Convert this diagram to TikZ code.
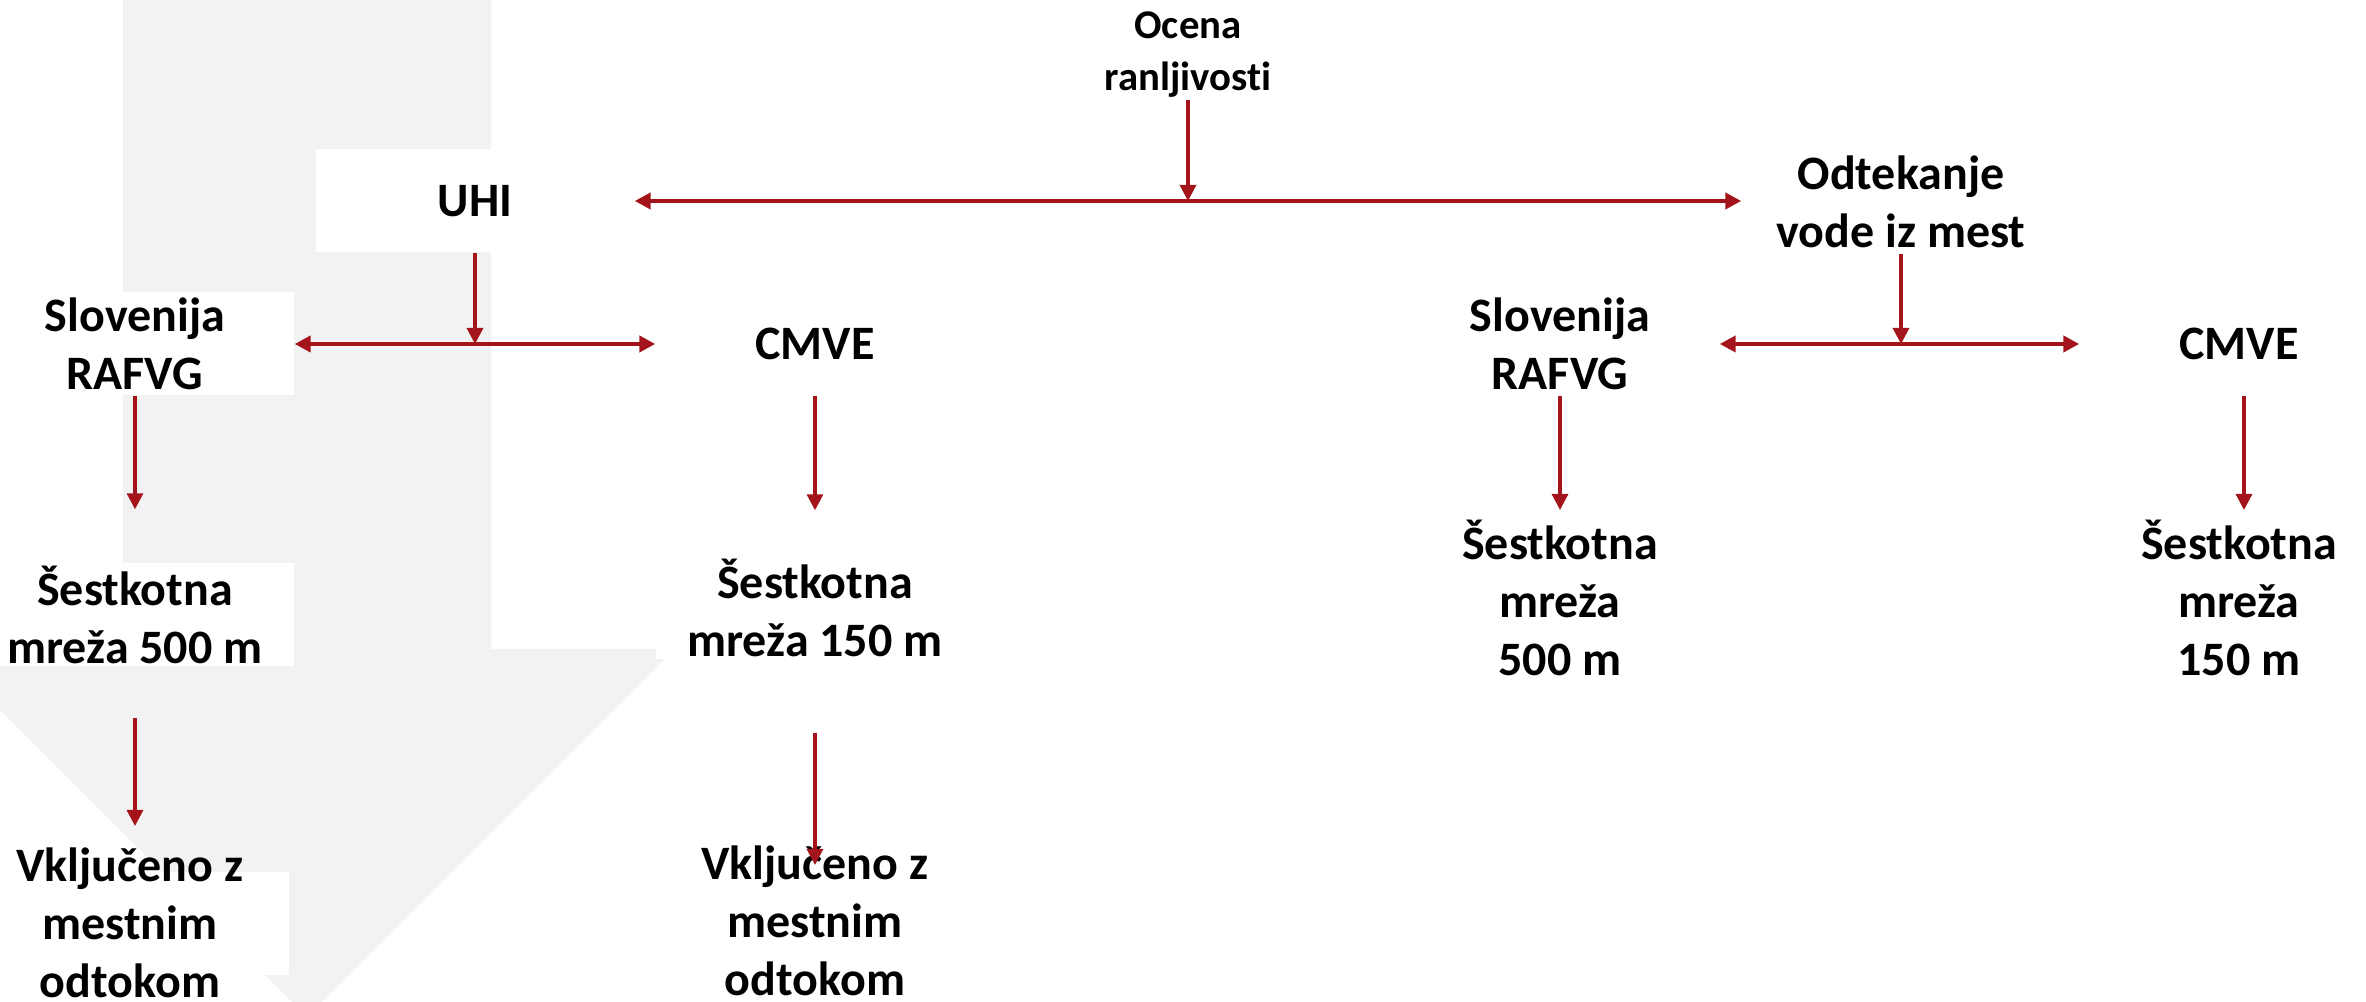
\documentclass[tikz,border=0pt]{standalone}
\usepackage{fontspec}
\setmainfont{Carlito}[Ligatures=NoCommon]
\usetikzlibrary{arrows.meta}
\definecolor{linkred}{RGB}{163,21,26}
\definecolor{flowgray}{RGB}{242,242,242}

\begin{document}
\begin{tikzpicture}[
  box/.style={fill=white, minimum width=3.18cm, minimum height=1.03cm, inner sep=0pt,
    align=center, font=\fontsize{13.66}{16.5}\selectfont\bfseries},
  tall/.style={box, fill=none},
  link/.style={linkred, line width=0.9pt, -{Triangle[length=0.16cm,width=0.16cm]}},
  both/.style={linkred, line width=1.15pt,
    {Triangle[length=0.16cm,width=0.16cm]}-{Triangle[length=0.16cm,width=0.16cm]}}
]
\useasboundingbox (0,0) rectangle (23.66,10.02);
\clip (0,0) rectangle (23.66,10.02);

% Background arrow
\fill[flowgray] (1.23,10.1) -- (1.23,3.53) -- (-0.61,3.53) -- (3.07,-0.15)
  -- (6.75,3.53) -- (4.91,3.53) -- (4.91,10.1) -- cycle;
\node[fill=white, minimum width=3.18cm, minimum height=1.03cm, inner sep=0pt] (vkljl-p) at (1.30,0.785) {};

% Top
\node[font=\fontsize{11.6}{14.8}\selectfont\bfseries, align=center, inner sep=0pt] (ocena) at (11.88,9.47) {Ocena\\ranljivosti};
\node[box] (uhi) at (4.75,8.01) {UHI};
\node[box] (odt) at (19.01,8.00) {Odtekanje\\vode iz mest};

% UHI branch
\node[box] (slol) at (1.35,6.58) {Slovenija\\RAFVG};
\node[box] (cmvel) at (8.15,6.58) {CMVE};
\node[box] (sest500l) at (1.35,3.87) {Šestkotna\\mreža 500 m};
\node[box] (sest150l) at (8.15,3.945) {Šestkotna\\mreža 150 m};
\node[tall] (vkljl) at (1.30,0.79) {Vključeno z\\mestnim\\odtokom};
\node[tall] (vkljr) at (8.15,0.81) {Vključeno z\\mestnim\\odtokom};

% Runoff branch
\node[box, fill=none] (slor) at (15.60,6.58) {Slovenija\\RAFVG};
\node[box, fill=none] (cmver) at (22.39,6.58) {CMVE};
\node[tall] (sest500r) at (15.60,4.04) {Šestkotna\\mreža\\500 m};
\node[tall] (sest150r) at (22.39,4.04) {Šestkotna\\mreža\\150 m};

% Connectors
\draw[both] (uhi.east) -- (uhi.east -| odt.west);
\draw[link, shorten <=0.3pt] (ocena.south) -- (ocena.south |- uhi.east);
\draw[link] (uhi.south) -- (uhi.south |- slol.east);
\draw[both] (slol.east) -- (slol.east -| cmvel.west);
\draw[link, shorten >=0.535cm] (slol.south) -- (sest500l.north);
\draw[link, shorten >=0.45cm] (cmvel.south) -- (sest150l.north);
\draw[link, shorten <=0.505cm, shorten >=0.97cm] (sest500l.south) -- (sest500l.south |- vkljl.center);
\draw[link, shorten <=0.73cm, shorten >=0.56cm] (sest150l.south) -- (vkljr.center);

\draw[link] (odt.south) -- (odt.south |- slor.east);
\draw[both] (slor.east) -- (slor.east -| cmver.west);
\draw[link, shorten >=0.88cm] (slor.south) -- (sest500r.center);
\draw[link, shorten >=0.88cm] ([xshift=0.05cm]cmver.south) -- ([xshift=0.05cm]cmver.south |- sest150r.center);
\end{tikzpicture}
\end{document}
